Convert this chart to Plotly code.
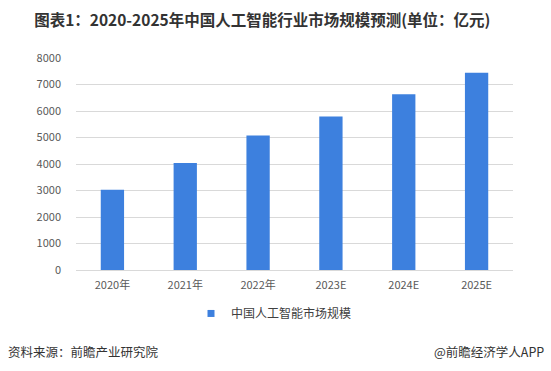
import plotly.graph_objects as go

categories = ["2020年", "2021年", "2022年", "2023E", "2024E", "2025E"]
values = [3031, 4041, 5080, 5790, 6630, 7440]
series_name = "中国人工智能市场规模"
y_ticks = [0, 1000, 2000, 3000, 4000, 5000, 6000, 7000, 8000]

FONT = "Noto Sans CJK SC, Microsoft YaHei, sans-serif"
BAR_COLOR = "#3D80DE"

fig = go.Figure()
fig.add_trace(go.Bar(
    x=categories, y=values, name=series_name,
    marker=dict(color=BAR_COLOR, line=dict(width=0)),
    showlegend=False,
))
# legend entry with a small square key, like the reference
fig.add_trace(go.Scatter(
    x=[None], y=[None], mode="markers", name=series_name,
    marker=dict(symbol="square", size=7, color=BAR_COLOR),
    showlegend=True, hoverinfo="skip",
))

fig.update_layout(
    width=551, height=371,
    margin=dict(l=76, r=38, t=58, b=101),
    paper_bgcolor="white", plot_bgcolor="white",
    bargap=0.68,
    font=dict(family=FONT, size=11, color="#595959"),
    title=dict(
        text="<b>图表1：2020-2025年中国人工智能行业市场规模预测(单位：亿元)</b>",
        x=0.476, xanchor="center", y=0.945, yanchor="middle",
        font=dict(family=FONT, size=15.5, color="#333333"),
    ),
    xaxis=dict(showgrid=False, showline=True, linecolor="#d9d9d9", linewidth=1,
               ticks="", ticklabelstandoff=5, tickfont=dict(size=11, color="#595959")),
    yaxis=dict(range=[0, 8000], tickvals=y_ticks, showgrid=True, gridcolor="#d9d9d9",
               gridwidth=1, zeroline=False, showline=False, ticks="",
               ticklabelstandoff=14,
               tickfont=dict(size=11, color="#595959")),
    legend=dict(orientation="h", x=(191 - 76) / 437, xanchor="left", y=-0.205, yanchor="middle",
                font=dict(size=12, color="#404040"), itemwidth=30),
)

fig.add_annotation(text="资料来源：前瞻产业研究院", xref="paper", yref="paper",
                   x=-70/437, xanchor="left", y=(270-351)/212, yanchor="middle",
                   showarrow=False, font=dict(family=FONT, size=12.5, color="#333333"))
fig.add_annotation(text="@前瞻经济学人APP", xref="paper", yref="paper",
                   x=(546-76)/437, xanchor="right", y=(270-351)/212, yanchor="middle",
                   showarrow=False, font=dict(family=FONT, size=12.5, color="#333333"))

fig.write_html("out.html", config={"displayModeBar": False},
               post_script="document.body.style.margin='0';")
